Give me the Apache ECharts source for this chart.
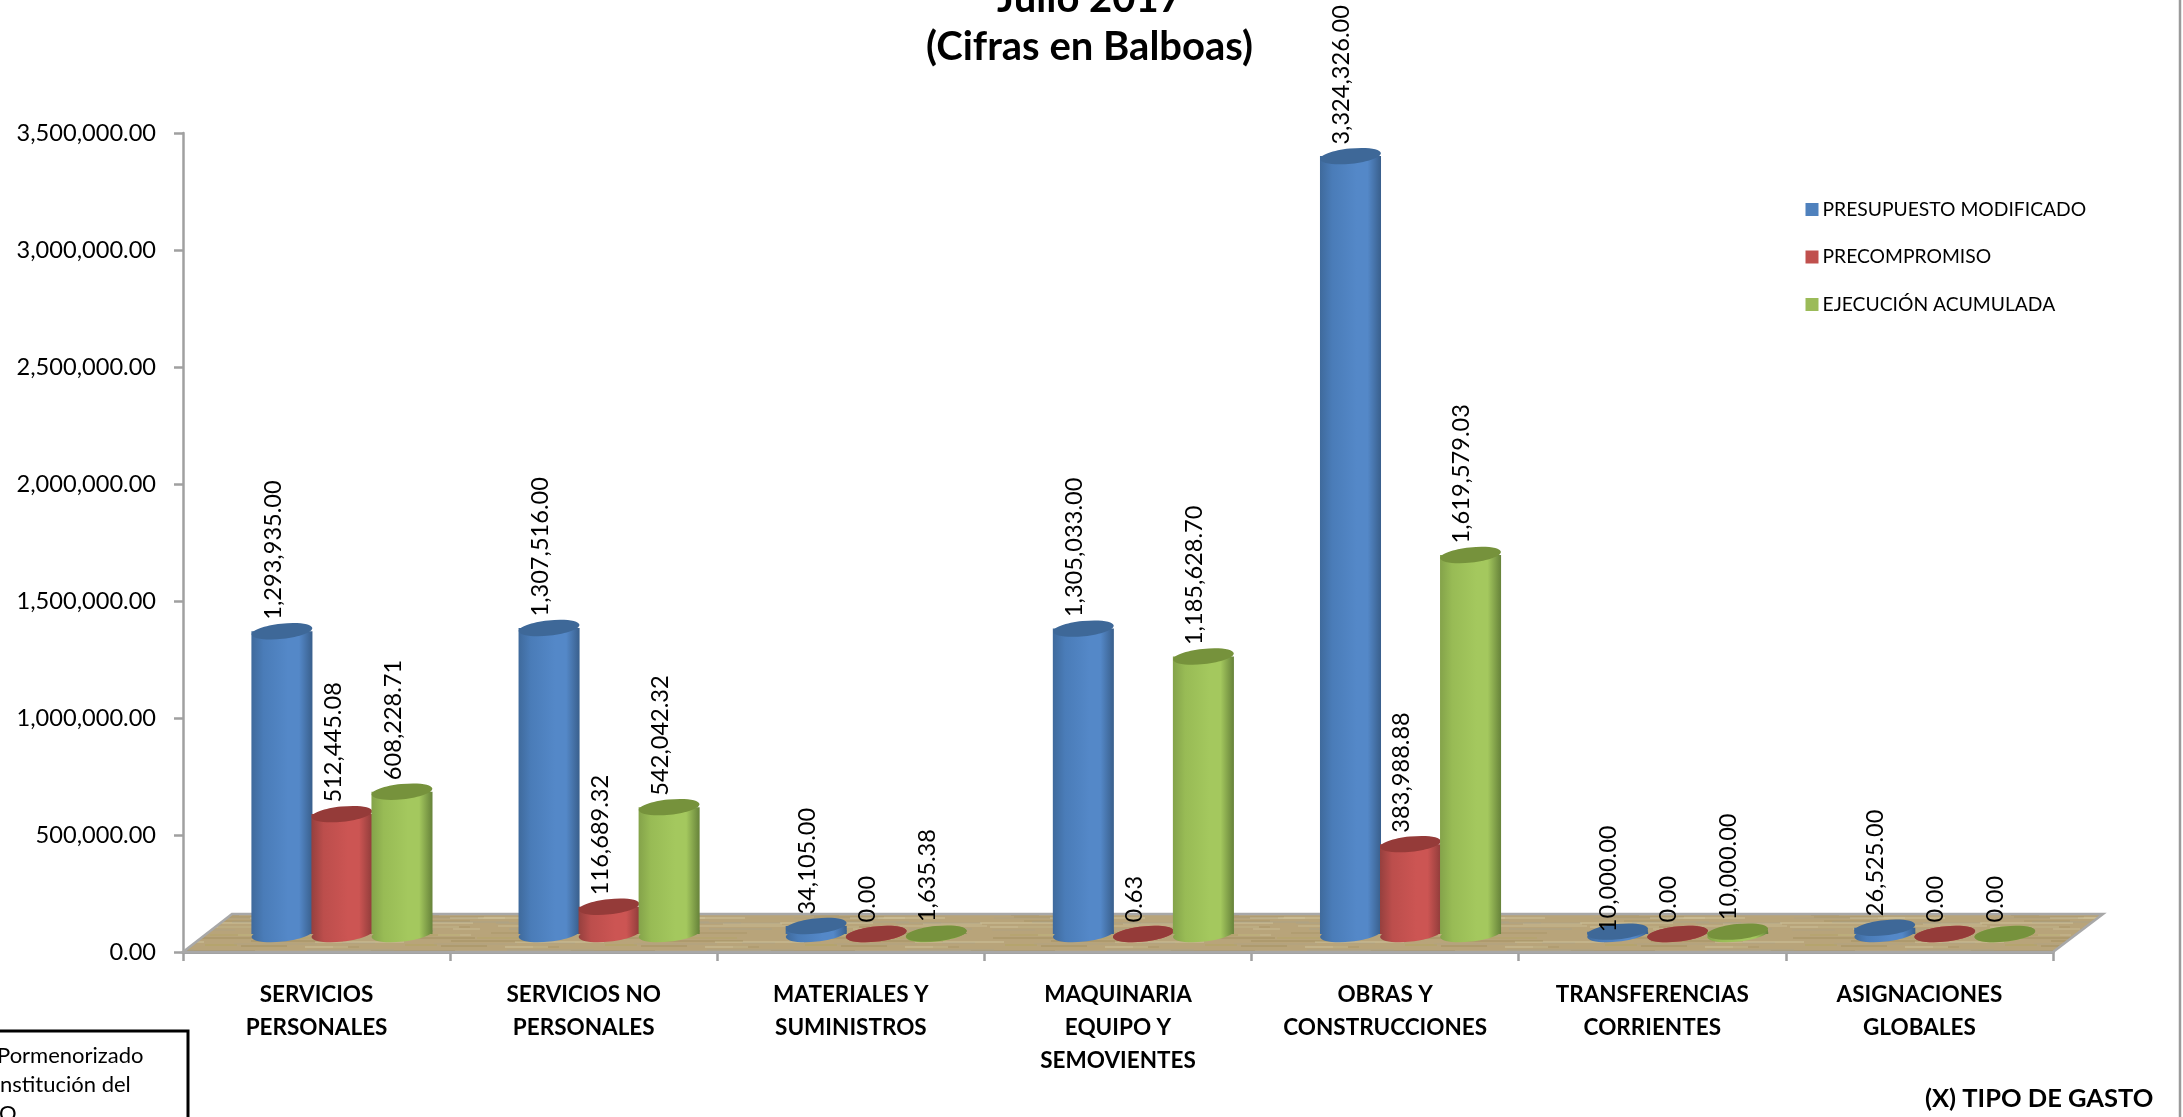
<!DOCTYPE html>
<html>
<head>
<meta charset="utf-8">
<style>html,body{margin:0;padding:0;background:#fff;overflow:hidden}#c{width:2183px;height:1117px}</style>
<script src="https://cdn.jsdelivr.net/npm/echarts@6/dist/echarts.min.js"></script>
</head>
<body>
<div id="c"></div>
<script>
var categories = ['SERVICIOS\nPERSONALES','SERVICIOS NO\nPERSONALES','MATERIALES Y\nSUMINISTROS','MAQUINARIA\nEQUIPO Y\nSEMOVIENTES','OBRAS Y\nCONSTRUCCIONES','TRANSFERENCIAS\nCORRIENTES','ASIGNACIONES\nGLOBALES'];
var presupuesto = [1293935.00,1307516.00,34105.00,1305033.00,3324326.00,10000.00,26525.00];
var precompromiso = [512445.08,116689.32,0.00,0.63,383988.88,0.00,0.00];
var ejecucion = [608228.71,542042.32,1635.38,1185628.70,1619579.03,10000.00,0.00];
var seriesNames = ['PRESUPUESTO MODIFICADO','PRECOMPROMISO','EJECUCIÓN ACUMULADA'];

var FONT = 'Lato, "Open Sans", sans-serif';
var DEPTH = 18;
var palettes = [
  {base:'#4f81bd', edgeL:'#3f6a9c', soft:'#4a7cb8', mid:'#5488c8', edgeR:'#395f8c', top:'#3e6898'},
  {base:'#c0504d', edgeL:'#96403e', soft:'#bc4e4c', mid:'#cc5553', edgeR:'#8f3c3a', top:'#953b39'},
  {base:'#9bbb59', edgeL:'#84a34a', soft:'#98bb55', mid:'#a4c85e', edgeR:'#66823a', top:'#76923c'}
];
function fmt(v){return Number(v).toLocaleString('en-US',{minimumFractionDigits:2,maximumFractionDigits:2});}

function woodTexture(){
  var s=200,c=document.createElement('canvas');c.width=s;c.height=s;
  var g=c.getContext('2d');g.fillStyle='#b8a47a';g.fillRect(0,0,s,s);
  var h=7;
  for(var i=0;i<420;i++){
    h=(h*137+59)%1009;
    var x=h%s;h=(h*137+59)%1009;var y=h%s;h=(h*137+59)%1009;var w=24+h%70;
    var t=h%4;
    g.fillStyle=t==0?'rgba(160,140,95,.16)':t==1?'rgba(210,198,160,.18)':t==2?'rgba(180,165,95,.16)':'rgba(170,162,145,.14)';
    g.fillRect(x,y,w,2);
    g.fillRect(x-s,y,w,2);
  }
  return c;
}
var wood = woodTexture();

function floorItem(params, api){
  var cs = params.coordSys;
  var x0=cs.x, x1=cs.x+cs.width, yF=cs.y+cs.height, yB=yF-38;
  return {type:'polygon', shape:{points:[[x0,yF],[x1,yF],[x1+50,yB],[x0+49,yB]]},
    style:{fill:{image:wood,repeat:'repeat'}, stroke:'#a8a8a8', lineWidth:2.5}};
}

function cylinder(k){
  return function(params, api){
    var idx=api.value(0), val=api.value(1);
    var c0=api.coord([idx,0]), c1=api.coord([idx,val]);
    var band=api.size([1,0])[0];
    var cx=c0[0]+band*0.095+(k-1)*band*0.2247;
    var w=band*0.2285, rx=w/2, ry=7.6, tilt=0.105;
    var yb=c0[1]-DEPTH, yt=c1[1]-DEPTH;
    var p=palettes[k];
    var grad={type:'linear',x:0,y:0,x2:1,y2:0,colorStops:[{offset:0,color:p.edgeL},{offset:.2,color:p.soft},{offset:.6,color:p.mid},{offset:.78,color:p.mid},{offset:1,color:p.edgeR}]};
    var kids=[];
    kids.push({type:'ellipse',x:cx,y:yb,rotation:tilt,shape:{cx:0,cy:0,rx:rx,ry:ry},style:{fill:grad}});
    if(yb-yt>0.3){kids.push({type:'rect',shape:{x:cx-rx,y:yt,width:w,height:yb-yt},style:{fill:grad}});}
    kids.push({type:'ellipse',x:cx,y:yt,rotation:tilt,shape:{cx:0,cy:0,rx:rx,ry:ry},style:{fill:p.top}});
    var nudge=(k===0&&val===10000)?12:0;
    kids.push({type:'text',x:cx-9,y:yt-11.5+nudge,rotation:Math.PI/2,
      style:{text:fmt(val),fill:'#000',font:'23.6px '+FONT,align:'left',verticalAlign:'middle'}});
    return {type:'group',children:kids};
  };
}
function seriesOf(k,arr){
  return {name:seriesNames[k],type:'custom',renderItem:cylinder(k),silent:true,z:3+k,
    itemStyle:{color:palettes[k].base},encode:{x:0,y:1},
    data:arr.map(function(v,i){return [i,v];})};
}

var chart=echarts.init(document.getElementById('c'));
chart.setOption({
  animation:false,
  backgroundColor:'#fff',
  title:{text:'Julio 2017\n(Cifras en Balboas)',left:1084.5,textAlign:'center',top:-30,
    textStyle:{fontFamily:FONT,fontWeight:'bold',fontSize:40,lineHeight:48,color:'#000'}},
  legend:{orient:'vertical',left:1800.5,top:195,itemWidth:13,itemHeight:13,itemGap:28.5,icon:'rect',
    data:seriesNames,selectedMode:false,
    textStyle:{fontFamily:FONT,fontSize:19.3,color:'#000',padding:[0,0,0,-1]}},
  grid:{left:183,right:130,top:133,bottom:165,containLabel:false},
  xAxis:{type:'category',data:categories,boundaryGap:true,
    name:'(X) TIPO DE GASTO',nameLocation:'end',nameGap:-128,
    nameTextStyle:{fontFamily:FONT,fontWeight:'bold',fontSize:25.5,color:'#000',align:'left',verticalAlign:'top',padding:[134,0,0,0]},
    axisLine:{lineStyle:{color:'#a0a0a0',width:3}},
    axisTick:{show:true,alignWithLabel:false,length:9,lineStyle:{color:'#a0a0a0',width:2.5}},
    axisLabel:{interval:0,margin:26,fontFamily:FONT,fontWeight:'bold',fontSize:22.5,lineHeight:33,color:'#000'}},
  yAxis:{type:'value',min:0,max:3500000,interval:500000,
    axisLine:{show:true,lineStyle:{color:'#a0a0a0',width:2.5}},
    axisTick:{show:true,length:9,lineStyle:{color:'#a0a0a0',width:2.5}},
    splitLine:{show:false},
    axisLabel:{margin:27,formatter:fmt,fontFamily:FONT,fontSize:23.6,color:'#000',padding:[2,0,0,0]}},
  graphic:[
    {type:'line',silent:true,z:1,shape:{x1:2180,y1:0,x2:2180,y2:1117},style:{stroke:'#9a9a9a',lineWidth:2.5}},
    {type:'rect',silent:true,z:1,shape:{x:-6,y:1031,width:194,height:110},style:{fill:'#fff',stroke:'#000',lineWidth:3}},
    {type:'text',silent:true,z:2,x:-3,y:1056,style:{text:'Pormenorizado',fill:'#000',font:'22px '+FONT,align:'left',verticalAlign:'middle'}},
    {type:'text',silent:true,z:2,x:0,y:1085,style:{text:'nstitución del',fill:'#000',font:'22px '+FONT,align:'left',verticalAlign:'middle'}},
    {type:'text',silent:true,z:2,x:-1,y:1114,style:{text:'O',fill:'#000',font:'22px '+FONT,align:'left',verticalAlign:'middle'}}
  ],
  series:[
    {type:'custom',renderItem:floorItem,silent:true,z:1,encode:{x:0,y:1},data:[[0,0]]},
    seriesOf(0,presupuesto),seriesOf(1,precompromiso),seriesOf(2,ejecucion)
  ]
});
</script>
</body>
</html>
